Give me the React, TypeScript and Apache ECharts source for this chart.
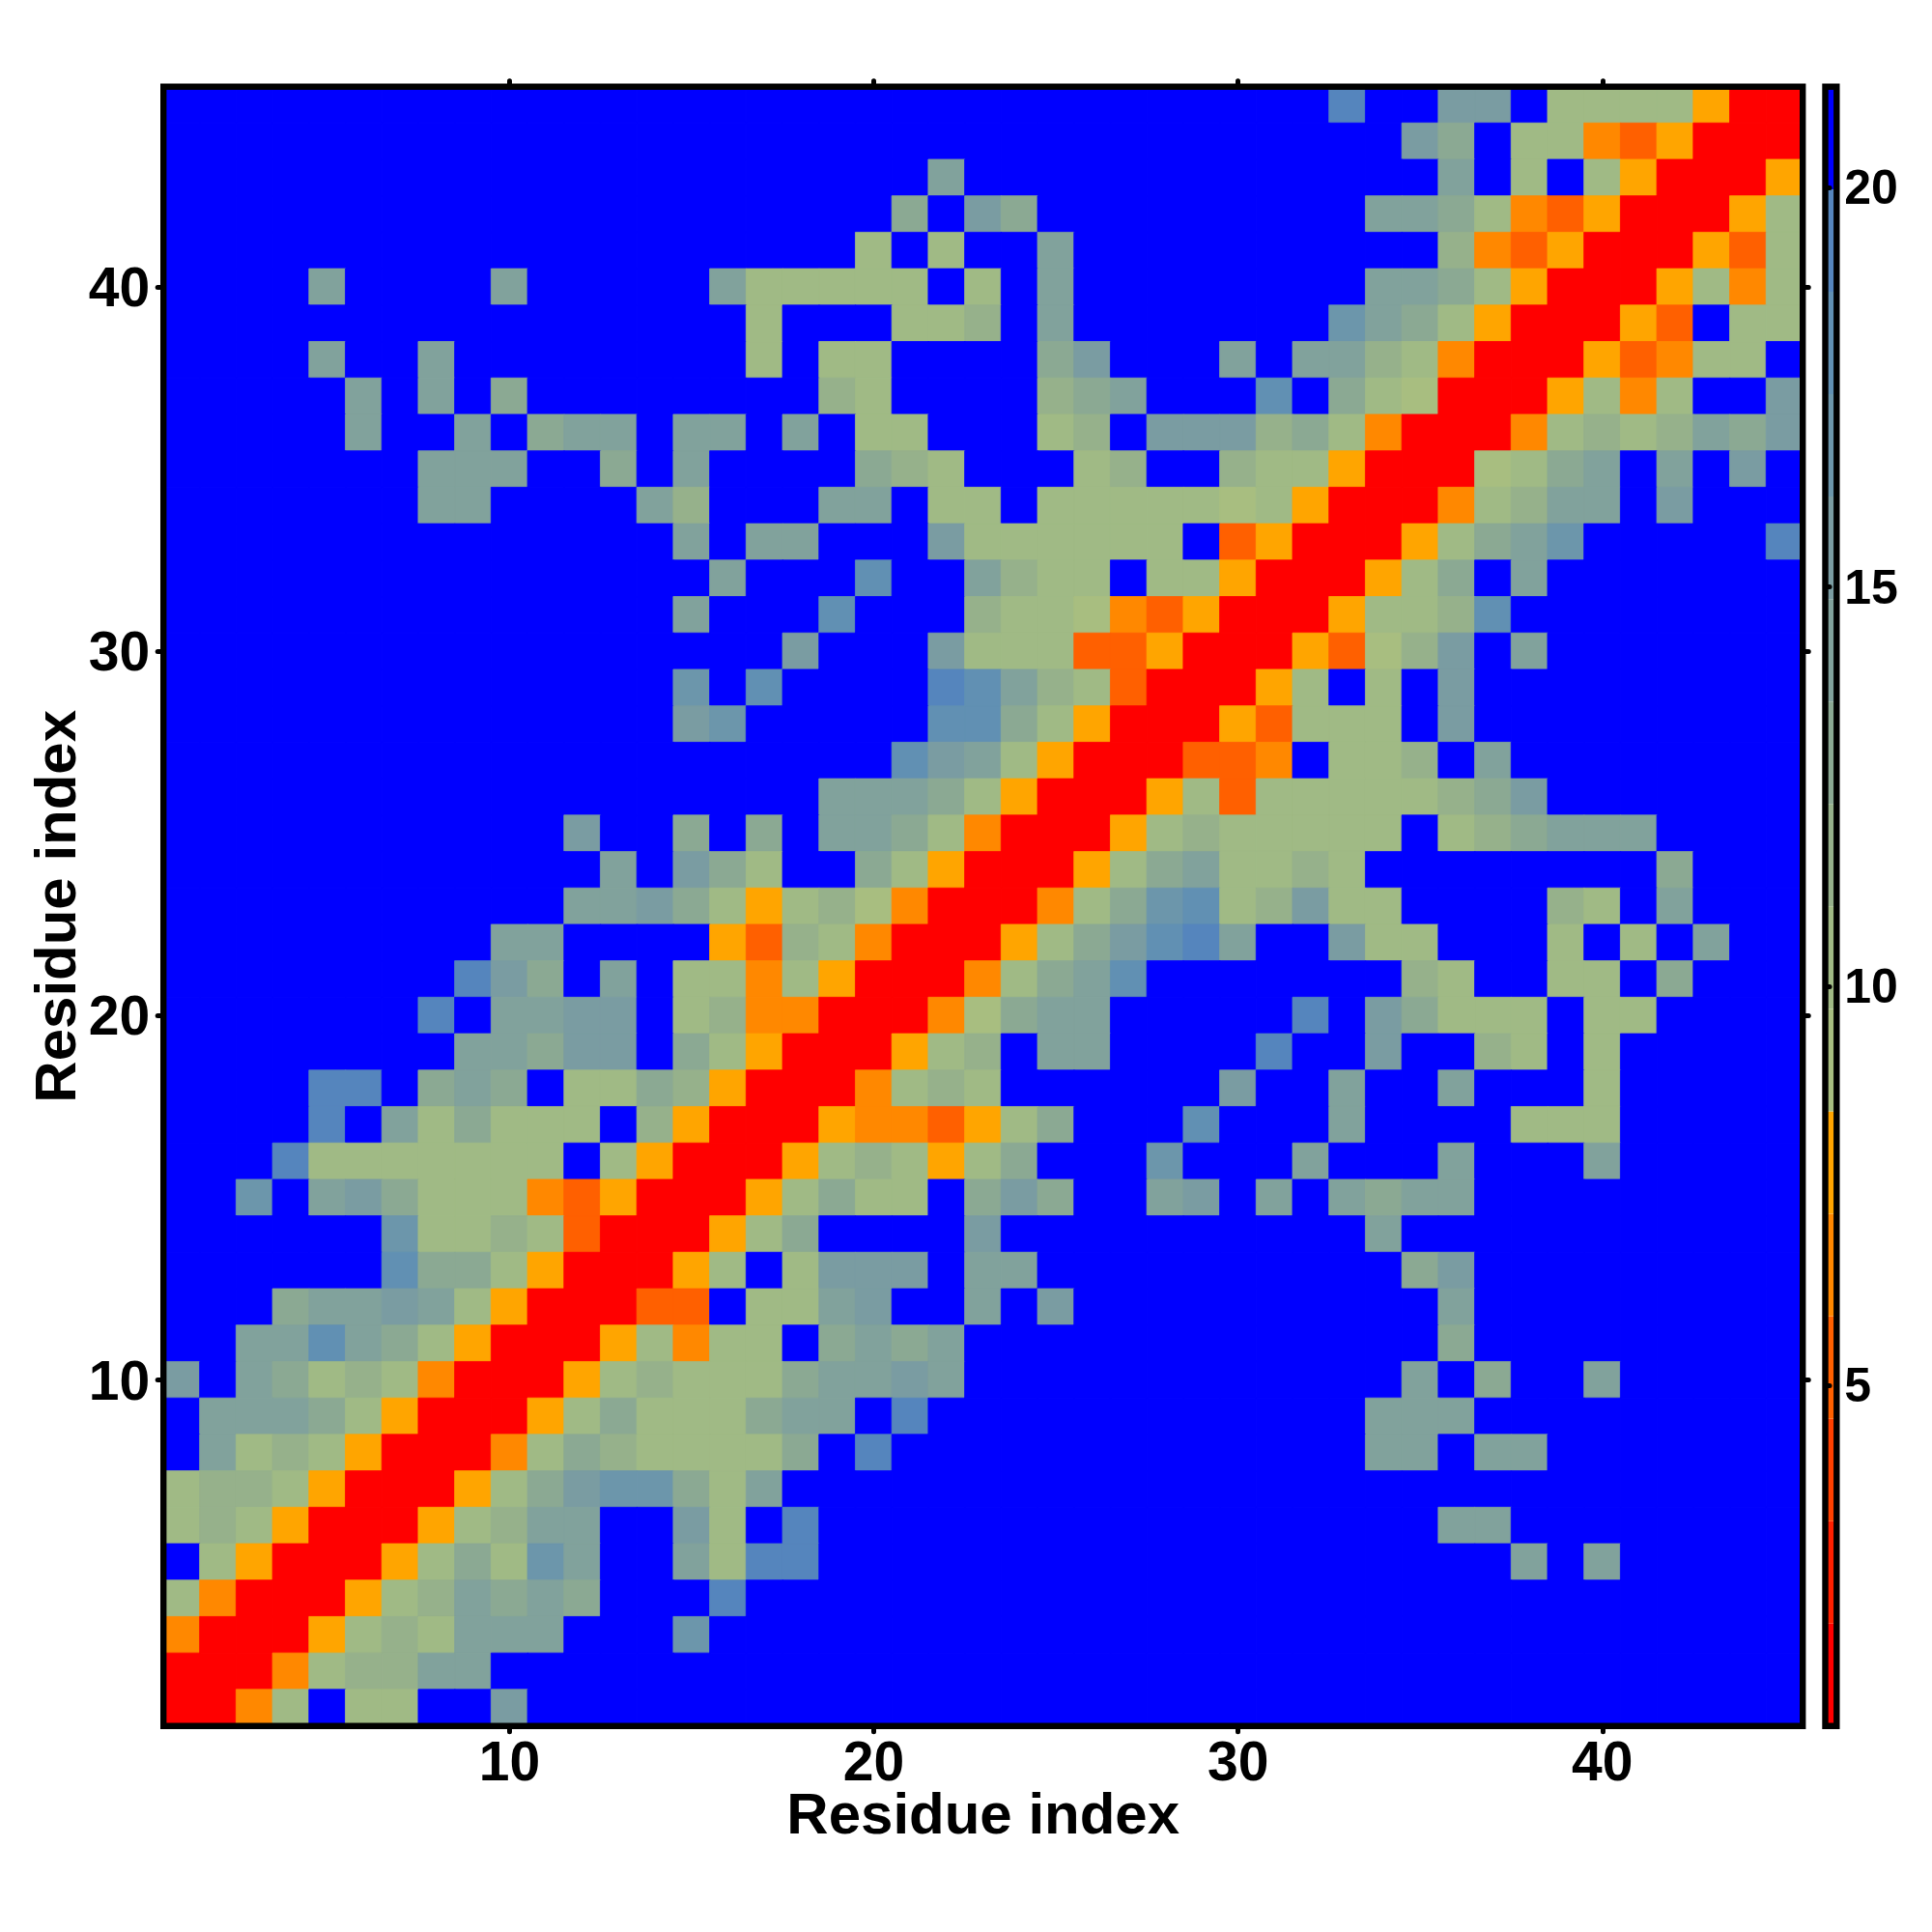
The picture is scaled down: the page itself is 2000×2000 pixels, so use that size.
import React, { useEffect, useRef } from "react";
import * as echarts from "echarts";

const RESIDUES = Array.from({ length: 45 }, (_, i) => String(i + 1));
const BAR_TICKS = [5, 10, 15, 20];
const BAR_MIN = 0.735;
const BAR_MAX = 21.265;
const LEVEL_EDGES = [0.735, 2.018, 3.301, 4.584, 5.867, 7.15, 8.433, 9.716, 11, 12.283, 13.566, 14.849, 16.132, 17.415, 18.698, 19.981, 21.265];
const LEVEL_COLORS = ["#ff0000", "#ff2000", "#ff4000", "#ff6000", "#ff8800", "#ffa500", "#a8be80", "#a0ba85", "#96b18b", "#8ba993", "#81a29c", "#7a9ca2", "#6c96ab", "#6190b3", "#5585bd", "#0000ff"];
// distance (mid-band, Å)
const CODE_VALUE: Record<string, number> = {
  R: 1.38, T: 5.23, O: 6.51, A: 7.79, i: 9.07, h: 10.36, g: 11.64, f: 12.92,
  e: 14.21, d: 15.49, c: 16.77, b: 18.06, a: 19.34,
};
const BLUE_VALUE = 20.62;
// one line per residue, top row (45) first: "startColumn:codes"; every other cell is the blue band
const ROWS = [
  "33:a 36:dd 39:hhhhARR",
  "35:df 38:hhOTARRR",
  "22:e 36:e 38:h 40:hARRRA",
  "21:f 23:df 34:eefhOTARRRAh",
  "20:h 22:h 25:e 36:gOTARRRATh",
  "5:e 10:e 16:ehhhhh 23:h 25:e 34:eefhARRRAhOh",
  "17:h 21:hhg 25:e 33:cefhARRRAT 44:hh",
  "5:e 8:e 17:h 19:hh 25:fd 30:e 32:eeghORRRATOhh",
  "6:e 8:e 10:f 19:gh 25:gfe 31:b 33:fhiRRRAhOh 45:d",
  "6:e 9:e 11:fee 15:ee 18:e 20:hh 25:hg 28:dddgfhORRROhghgefd",
  "8:eee 13:f 15:e 20:fgh 26:hg 30:ghhARRRihfe 42:e 44:d",
  "8:ee 14:eg 19:ee 22:hh 25:hhhhhihARRROhgee 42:d",
  "15:e 17:ee 22:dhhhhhh 30:TARRRAhfec 45:a",
  "16:e 20:b 23:eghh 28:hhARRRAhf 38:e",
  "15:e 19:b 23:ghhiOTARRRAhhgb",
  "18:d 22:dhhhTTARRRATigd 38:e",
  "15:c 17:b 22:abeghTRRRAh 34:h 36:d",
  "15:dc 22:bbfhARRRAThhh 36:d",
  "21:bdehARRRTTO 33:hhg 37:e",
  "19:eeefhARRRAhThhhhhgfd",
  "12:d 15:f 17:f 19:eefhORRRAhghhhhh 36:hgfeee",
  "13:e 15:dfh 20:fhARRRAhfehhgh 42:f",
  "12:eedfhAhgiORRROhfcbhgdhh 39:gh 42:e",
  "10:ee 16:ATghORRRAhfdbae 33:dhh 39:h 41:h 43:e",
  "9:adf 13:e 15:hhOhARRROhfeb 35:gh 39:hh 42:f",
  "8:a 10:eedd 15:hgOORRROifee 32:a 34:df 36:hhh 40:hh",
  "9:eefdd 15:fhARRRAhg 25:ee 31:a 34:d 37:gh 40:h",
  "5:aa 8:fef 12:hhfgARRROhgh 30:d 33:e 36:e 40:h",
  "5:a 7:ehfhhh 14:gARRRAOOTAhf 29:b 33:e 38:hhh",
  "4:ahhhhhhh 13:hARRRAhghAhf 28:c 32:e 36:e 40:e",
  "3:c 5:edfhhhOTARRRAhfhh 23:fdf 28:ed 31:e 33:efee",
  "7:chhghTRRRAhf 23:d 34:e",
  "7:bffhARRRAh 18:hddd 23:ee 35:fd",
  "4:feedehARRRTT 17:hhed 23:e 25:d 36:e",
  "3:eebefhARRRAhOhh 19:fefe 36:f",
  "1:d 3:efhghORRRAhghhhfeede 35:e 37:f 40:e",
  "2:eeefhARRRAhfhhhfee 21:a 34:eee",
  "2:ehghARRROhfghhhhf 20:a 34:ee 37:ee",
  "1:hgghARRRAhfdccfhe",
  "1:hghARRRAhgee 15:dh 18:a 36:ee",
  "2:hARRRAhfhce 15:eh 17:aa 38:e 40:e",
  "1:hORRRAhgefef 16:a",
  "1:ORRRAhgheee 15:c",
  "1:RRROhggee",
  "1:RROh 6:hh 10:d",
];

const FONT = "Liberation Sans";
const PLOT = { left: 169.2, top: 89.8, size: 1697 };
const BAR = { left: 1889.5, width: 11.8 };
const FRAME_WIDTH = 6.4;

function levelColor(v: number) {
  const i = LEVEL_EDGES.findIndex((e, k) => v >= e && v < LEVEL_EDGES[k + 1]);
  return LEVEL_COLORS[i];
}

function buildCells() {
  const cells: any[] = [];
  ROWS.forEach((line, idx) => {
    const y = 44 - idx;
    const vals = new Array(45).fill(BLUE_VALUE);
    line.split(" ").forEach((tok) => {
      const [start, codes] = tok.split(":");
      codes.split("").forEach((c, k) => {
        vals[Number(start) - 1 + k] = CODE_VALUE[c];
      });
    });
    vals.forEach((v, x) => {
      const color = levelColor(v);
      cells.push({ value: [x, y, v], itemStyle: { color, borderColor: color, borderWidth: 0.8 } });
    });
  });
  return cells;
}

const everyTen = (i: number) => (i + 1) % 10 === 0;

function catAxis(kind: "x" | "y", position: string, labelled: boolean, name?: string) {
  return {
    type: "category",
    gridIndex: 0,
    position,
    data: RESIDUES,
    boundaryGap: true,
    z: 6,
    axisLine: { show: false },
    axisTick: {
      show: true,
      alignWithLabel: true,
      interval: everyTen,
      length: 6,
      lineStyle: { color: "#000", width: 5, cap: "round" },
    },
    axisLabel: {
      show: labelled,
      interval: everyTen,
      margin: kind === "x" ? 13 : 14,
      lineHeight: 46,
      color: "#000",
      fontFamily: FONT,
      fontWeight: "bold",
      fontSize: 57,
    },
    splitLine: { show: false },
    name,
    nameLocation: "middle",
    nameMoveOverlap: false,
    nameGap: kind === "x" ? 61 : 82,
    nameTextStyle: { color: "#000", fontFamily: FONT, fontWeight: "bold", fontSize: 60 },
  };
}

const frame = (x: number, y: number, width: number, height: number) => ({
  type: "rect",
  z: 10,
  silent: true,
  shape: { x, y, width, height },
  style: { fill: "none", stroke: "#000", lineWidth: FRAME_WIDTH },
});

export default function App() {
  const ref = useRef<HTMLDivElement>(null);
  useEffect(() => {
    document.body.style.margin = "0";
    const chart = echarts.init(ref.current!, null, { renderer: "svg" });
    chart.setOption({
      animation: false,
      backgroundColor: "#fff",
      grid: [
        { left: PLOT.left, top: PLOT.top, width: PLOT.size, height: PLOT.size, show: false },
        { left: BAR.left, top: PLOT.top, width: BAR.width, height: PLOT.size, show: false },
      ],
      graphic: [
        frame(PLOT.left, PLOT.top, PLOT.size, PLOT.size),
        frame(BAR.left, PLOT.top, BAR.width, PLOT.size),
      ],
      xAxis: [
        catAxis("x", "bottom", true, "Residue index"),
        catAxis("x", "top", false),
        { type: "value", gridIndex: 1, min: 0, max: 1, show: false },
      ],
      yAxis: [
        catAxis("y", "left", true, "Residue index"),
        catAxis("y", "right", false),
        {
          type: "value",
          gridIndex: 1,
          position: "right",
          min: BAR_MIN,
          max: BAR_MAX,
          z: 6,
          axisLine: { show: false },
          splitLine: { show: false },
          axisTick: {
            show: true,
            length: 4.5,
            customValues: BAR_TICKS,
            lineStyle: { color: "#000", width: 5, cap: "round" },
          },
          axisLabel: {
            show: true,
            margin: 8,
            customValues: BAR_TICKS,
            color: "#000",
            fontFamily: FONT,
            fontWeight: "bold",
            fontSize: 50,
          },
        },
      ],
      visualMap: {
        show: false,
        type: "piecewise",
        seriesIndex: 0,
        dimension: 2,
        pieces: LEVEL_COLORS.map((color, i) => ({ gte: LEVEL_EDGES[i], lt: LEVEL_EDGES[i + 1], color })),
      },
      series: [
        {
          type: "heatmap",
          xAxisIndex: 0,
          yAxisIndex: 0,
          data: buildCells(),
          progressive: 0,
        },
        {
          type: "custom",
          xAxisIndex: 2,
          yAxisIndex: 2,
          data: LEVEL_COLORS.map((_, i) => [LEVEL_EDGES[i], LEVEL_EDGES[i + 1], i]),
          encode: { y: [0, 1] },
          renderItem: (_p: any, api: any) => {
            const lo = api.coord([0, api.value(0)]);
            const hi = api.coord([1, api.value(1)]);
            return {
              type: "rect",
              shape: { x: lo[0], y: hi[1], width: hi[0] - lo[0], height: lo[1] - hi[1] },
              style: { fill: LEVEL_COLORS[api.value(2)] },
            };
          },
        },
      ],
    });
    return () => chart.dispose();
  }, []);
  return <div ref={ref} style={{ width: 2000, height: 2000, position: "absolute", left: 0, top: 0 }} />;
}
